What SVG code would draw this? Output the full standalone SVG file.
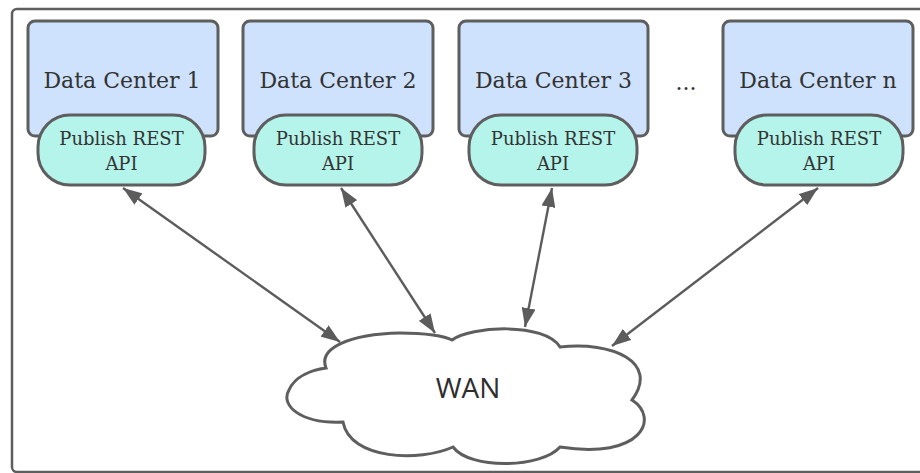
<svg xmlns="http://www.w3.org/2000/svg" width="920" height="473" viewBox="0 0 920 473">
  <style>
    .frame { fill: #ffffff; stroke: #5e5e5e; stroke-width: 2.5; }
    .dc { fill: #cfe2fd; stroke: #5e5e5e; stroke-width: 3; }
    .api { fill: #b5f4ea; stroke: #5e5e5e; stroke-width: 3; }
    .dc-label { font-family: "DejaVu Serif", "Liberation Serif", serif; font-size: 22px; fill: #333333; text-anchor: middle; }
    .api-label { font-family: "DejaVu Serif", "Liberation Serif", serif; font-size: 18px; fill: #333333; text-anchor: middle; }
    .cloud { fill: #ffffff; stroke: #5e5e5e; stroke-width: 3; }
    .cloud-label { font-family: "Open Sans", "Liberation Sans", sans-serif; font-size: 28px; fill: #2e2e2e; text-anchor: middle; }
    .link { stroke: #5c5c5c; stroke-width: 2.4; fill: none; marker-start: url(#head); marker-end: url(#head); }
  </style>
  <defs>
    <marker id="head" viewBox="0 0 19 14" refX="19" refY="7" markerWidth="19" markerHeight="14" markerUnits="userSpaceOnUse" orient="auto-start-reverse">
      <path d="M0,0 L19,7 L0,14 Z" fill="#5c5c5c"/>
    </marker>
  </defs>

  <!-- outer container -->
  <rect class="frame" x="12" y="9" width="920" height="463" rx="5"/>

  <!-- data centers -->
  <g id="dc1">
    <rect class="dc" x="28" y="21" width="190" height="115" rx="7"/>
    <text class="dc-label" x="122" y="88">Data Center 1</text>
    <g id="api1">
      <rect class="api" x="38" y="115" width="167" height="70" rx="32"/>
      <text class="api-label" x="121.5" y="145">Publish REST</text>
      <text class="api-label" x="121.5" y="170">API</text>
    </g>
  </g>

  <g id="dc2">
    <rect class="dc" x="243" y="21" width="190" height="115" rx="7"/>
    <text class="dc-label" x="338" y="88">Data Center 2</text>
    <g id="api2">
      <rect class="api" x="254" y="115" width="168" height="70" rx="32"/>
      <text class="api-label" x="338" y="145">Publish REST</text>
      <text class="api-label" x="338" y="170">API</text>
    </g>
  </g>

  <g id="dc3">
    <rect class="dc" x="459" y="21" width="189" height="115" rx="7"/>
    <text class="dc-label" x="553.5" y="88">Data Center 3</text>
    <g id="api3">
      <rect class="api" x="469" y="115" width="168" height="70" rx="32"/>
      <text class="api-label" x="553" y="145">Publish REST</text>
      <text class="api-label" x="553" y="170">API</text>
    </g>
  </g>

  <g id="ellipsis">
    <text class="dc-label" x="686" y="90">...</text>
  </g>

  <g id="dcn">
    <rect class="dc" x="723" y="21" width="190" height="115" rx="7"/>
    <text class="dc-label" x="818" y="88">Data Center n</text>
    <g id="apin">
      <rect class="api" x="735" y="115" width="168" height="70" rx="32"/>
      <text class="api-label" x="819" y="145">Publish REST</text>
      <text class="api-label" x="819" y="170">API</text>
    </g>
  </g>

  <!-- wide area network -->
  <g id="wan">
    <path class="cloud" d="M326,368 C318,348 350,334 400,333 C425,333 445,336 452,340 C470,326 545,322 560,347 C612,341 660,362 632,400 C660,418 642,460 560,447 C542,468 470,470 453,447 C420,462 350,460 343,422 C300,424 280,405 289,390 C295,376 312,370 326,368 Z"/>
    <text class="cloud-label" x="468" y="398">WAN</text>
  </g>

  <!-- links between each API and the WAN -->
  <g id="links">
    <line class="link" x1="123" y1="188" x2="340" y2="342"/>
    <line class="link" x1="341" y1="188" x2="435" y2="333"/>
    <line class="link" x1="552" y1="188" x2="525" y2="327"/>
    <line class="link" x1="818" y1="188" x2="612" y2="346"/>
  </g>
</svg>
